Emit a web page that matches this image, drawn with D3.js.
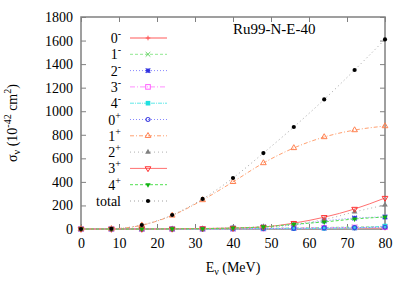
<!DOCTYPE html>
<html>
<head>
<meta charset="utf-8">
<script src="https://cdn.jsdelivr.net/npm/d3@7"></script>
<style>
  body { margin: 0; background: #fff; }
  svg text, svg tspan { font-family: "Liberation Serif", "Times New Roman", serif !important; }
</style>
</head>
<body>
<div id="chart"></div>
<script>
// energies (MeV)
var energy = [0, 8, 16, 24, 32, 40, 48, 56, 64, 72, 80];

// cross sections per multipole, 10^-42 cm^2
var s0m = [0, 0, 0, 0, 0, 1, 2, 3, 4, 6, 8];
var s1m = [0, 0, 0, 0, 1, 3, 6, 9, 13, 17, 22];
var s2m = [0, 0, 0, 1, 3, 8, 17, 34, 68, 93, 102];
var s3m = [0, 0, 0, 0, 1, 2, 4, 7, 10, 13, 16];
var s4m = [0, 0, 0, 0, 0, 1, 2, 3, 5, 8, 25];
var s0p = [0, 0, 0, 0, 1, 2, 4, 6, 9, 12, 15];
var s1p = [0, 2, 32, 115, 246, 400, 560, 688, 781, 840, 874];
var s2p = [0, 0, 0, 1, 4, 10, 20, 42, 80, 145, 204];
var s3p = [0, 0, 0, 1, 4, 8, 17, 50, 100, 170, 263];
var s4p = [0, 0, 0, 1, 3, 8, 18, 40, 60, 85, 102];
var total = [0, 2, 34, 119, 255, 433, 645, 866, 1100, 1350, 1610];

var seriesNames = ["0-", "1-", "2-", "3-", "4-", "0+", "1+", "2+", "3+", "4+", "total"];
var seriesVals = [s0m, s1m, s2m, s3m, s4m, s0p, s1p, s2p, s3p, s4p, total];

var xTicks = [0, 10, 20, 30, 40, 50, 60, 70, 80];
var yTicks = [0, 200, 400, 600, 800, 1000, 1200, 1400, 1600, 1800];

// look of each curve
var styles = [
  {c: "#ff9090", dash: null,      mk: "plus"},
  {c: "#90e890", dash: "3,2",     mk: "cross"},
  {c: "#8888ff", dash: "1,2",     mk: "star"},
  {c: "#ff90ff", dash: "5,2,1,2", mk: "sqOpen"},
  {c: "#60e8e8", dash: "4,1,1,1", mk: "sqFill"},
  {c: "#8888ff", dash: "1,2",     mk: "circOpen"},
  {c: "#ffa070", dash: "4,2,1,2", mk: "triOpen"},
  {c: "#b0b0b0", dash: "1,3",     mk: "triFill"},
  {c: "#ff7070", dash: null,      mk: "triDown"},
  {c: "#50e050", dash: "3,2",     mk: "triFillG"},
  {c: "#a0a0a0", dash: "1,3",     mk: "dot"}
];

var W = 409, H = 286;
var margin = {top: 17, right: 24, bottom: 57, left: 81};
var width = W - margin.left - margin.right,
    height = H - margin.top - margin.bottom;

var svg = d3.select("#chart").append("svg")
  .attr("width", W).attr("height", H)
  .attr("font-family", "Liberation Serif");

var g = svg.append("g").attr("transform", `translate(${margin.left},${margin.top})`);

var xScale = d3.scaleLinear().domain([0, 80]).range([0, width]);
var yScale = d3.scaleLinear().domain([0, 1800]).range([height, 0]);

function txt(parent, size) {
  return parent.append("text").attr("font-size", size);
}

// axes: ticks pointing inward, mirrored on top/right
var axCol = "#808080";
function styleAxis(sel) {
  sel.attr("font-family", null).attr("font-size", 14);
  sel.select(".domain").remove();
  sel.selectAll("line").attr("stroke", axCol);
  sel.selectAll("text").attr("fill", "#000");
}
g.append("g").attr("transform", `translate(0,${height})`)
  .call(d3.axisBottom(xScale).tickValues(xTicks).tickSize(-5).tickPadding(9).tickFormat(d3.format("d")))
  .call(styleAxis);
g.append("g")
  .call(d3.axisLeft(yScale).tickValues(yTicks).tickSize(-5).tickPadding(8).tickFormat(d3.format("d")))
  .call(styleAxis);
g.append("g")
  .call(d3.axisTop(xScale).tickValues(xTicks).tickSize(-5).tickFormat(""))
  .call(styleAxis);
g.append("g").attr("transform", `translate(${width},0)`)
  .call(d3.axisRight(yScale).tickValues(yTicks).tickSize(-5).tickFormat(""))
  .call(styleAxis);

g.append("rect").attr("width", width).attr("height", height)
  .attr("fill", "none").attr("stroke", axCol).attr("stroke-width", 1.5);

// markers
function drawMarker(sel, type) {
  var s = 2.3;
  if (type === "plus") {
    sel.append("path").attr("d", `M${-s},0H${s}M0,${-s}V${s}`).attr("stroke", "#ff5050").attr("stroke-width", 1);
  } else if (type === "cross") {
    sel.append("path").attr("d", `M${-s},${-s}L${s},${s}M${-s},${s}L${s},${-s}`).attr("stroke", "#60d060").attr("stroke-width", 1);
  } else if (type === "star") {
    sel.append("path").attr("d", `M${-s},0H${s}M0,${-s}V${s}M${-s},${-s}L${s},${s}M${-s},${s}L${s},${-s}`).attr("stroke", "#3030e0").attr("stroke-width", 1.2);
  } else if (type === "sqOpen") {
    sel.append("rect").attr("x", -s).attr("y", -s).attr("width", 2 * s).attr("height", 2 * s).attr("fill", "none").attr("stroke", "#ff60ff");
  } else if (type === "sqFill") {
    sel.append("rect").attr("x", -s).attr("y", -s).attr("width", 2 * s).attr("height", 2 * s).attr("fill", "#20e0e0");
  } else if (type === "circOpen") {
    sel.append("circle").attr("r", 2).attr("fill", "none").attr("stroke", "#4040e0").attr("stroke-width", 1.2);
  } else if (type === "triOpen") {
    sel.append("path").attr("d", d3.symbol(d3.symbolTriangle, 14)).attr("fill", "none").attr("stroke", "#ff8050");
  } else if (type === "triFill") {
    sel.append("path").attr("d", d3.symbol(d3.symbolTriangle, 14)).attr("fill", "#808080");
  } else if (type === "triDown") {
    sel.append("path").attr("d", d3.symbol(d3.symbolTriangle, 14)).attr("transform", "rotate(180)").attr("fill", "none").attr("stroke", "#ff3030");
  } else if (type === "triFillG") {
    sel.append("path").attr("d", d3.symbol(d3.symbolTriangle, 12)).attr("transform", "rotate(180)").attr("fill", "#10b010");
  } else if (type === "dot") {
    sel.append("circle").attr("r", 2.1).attr("fill", "#000");
  }
}

var line = d3.line()
  .x((d, i) => xScale(energy[i]))
  .y(d => yScale(d))
  .curve(d3.curveMonotoneX);

seriesVals.forEach(function (vals, k) {
  var st = styles[k];
  g.append("path").datum(vals)
    .attr("d", line)
    .attr("fill", "none")
    .attr("stroke", st.c)
    .attr("stroke-width", 1)
    .attr("stroke-dasharray", st.dash);
  vals.forEach(function (v, i) {
    var m = g.append("g").attr("transform", `translate(${xScale(energy[i])},${yScale(v)})`);
    drawMarker(m, st.mk);
  });
});

// legend
var leg = svg.append("g");
seriesNames.forEach(function (name, k) {
  var y = 38 + k * 16.3;
  var st = styles[k];
  var t = txt(leg, 14).attr("x", 121).attr("y", y + 5).attr("text-anchor", "end");
  if (name === "total") {
    t.text("total");
  } else {
    t.append("tspan").text(name[0]);
    t.append("tspan").attr("dy", -6).attr("font-size", 10).text(name[1] === "-" ? "-" : "+");
  }
  leg.append("line").attr("x1", 130).attr("x2", 167).attr("y1", y).attr("y2", y)
    .attr("stroke", st.c).attr("stroke-width", k === 0 ? 1.5 : 1)
    .attr("stroke-dasharray", st.dash);
  drawMarker(leg.append("g").attr("transform", `translate(148,${y})`), st.mk);
});

// title
txt(svg, 15).attr("x", 233).attr("y", 34).text("Ru99-N-E-40");

// axis labels
var xl = txt(svg, 14).attr("x", 233).attr("y", 272).attr("text-anchor", "middle");
xl.append("tspan").text("E");
xl.append("tspan").attr("dy", 3).attr("font-size", 10).text("ν");
xl.append("tspan").attr("dy", -3).text(" (MeV)");

var yl = txt(svg, 14).attr("transform", "translate(17,123) rotate(-90)").attr("text-anchor", "middle");
yl.append("tspan").text("σ");
yl.append("tspan").attr("dy", 3).attr("font-size", 10).text("ν");
yl.append("tspan").attr("dy", -3).text(" (10");
yl.append("tspan").attr("dy", -6).attr("font-size", 10).text("-42");
yl.append("tspan").attr("dy", 6).text(" cm");
yl.append("tspan").attr("dy", -6).attr("font-size", 10).text("2");
yl.append("tspan").attr("dy", 6).text(")");
</script>
</body>
</html>
